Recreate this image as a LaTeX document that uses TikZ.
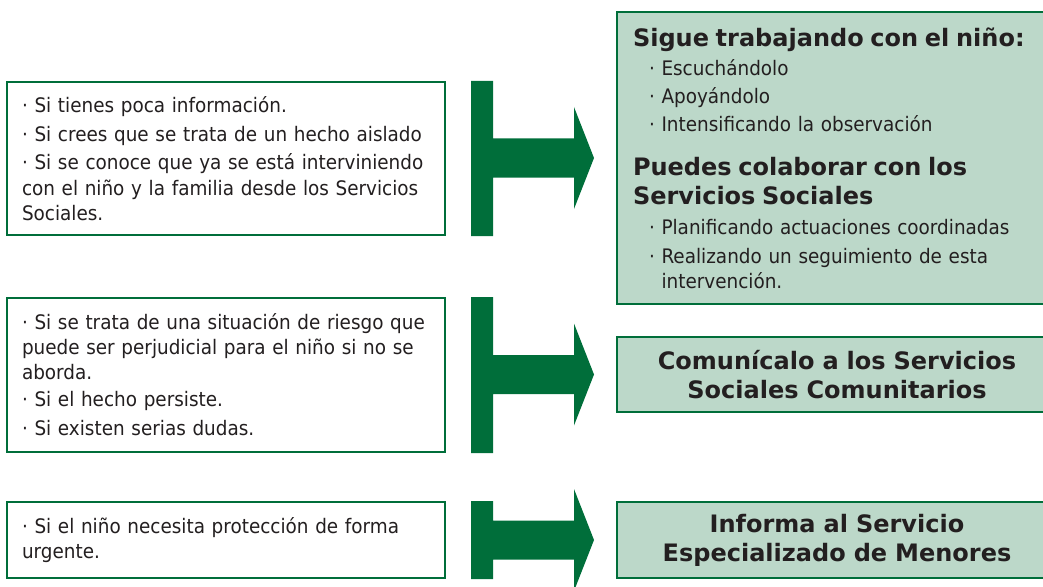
\documentclass[tikz,border=0pt]{standalone}
\usepackage{fontspec}
\setmainfont{DejaVu Sans}[FakeStretch=0.92, BoldFeatures={FakeStretch=1.0}]
\usetikzlibrary{positioning,calc}
\definecolor{verde}{HTML}{006E3A}
\definecolor{verdeclaro}{HTML}{BCD8C9}
\definecolor{texto}{HTML}{231F20}
\newcommand{\cuerpo}{\fontsize{20bp}{25bp}\selectfont}
\newcommand{\titular}{\fontsize{24bp}{29bp}\selectfont\bfseries}
\newcommand{\sangria}{\hspace*{16bp}}

% flecha en T desde la caja #1 hasta la caja #2
\newcommand{\flechaT}[2]{%
  \fill[flecha] let \p1=(#1.north east), \p2=(#1.south east), \p3=(#2.west) in
    (\x1+25bp,\y1) -- (\x1+47bp,\y1) -- (\x1+47bp,\y3+19.5bp) -- (\x3-42bp,\y3+19.5bp)
    -- (\x3-42bp,\y3+51bp) -- (\x3-22bp,\y3) -- (\x3-42bp,\y3-51bp) -- (\x3-42bp,\y3-19.5bp)
    -- (\x1+47bp,\y3-19.5bp) -- (\x1+47bp,\y2) -- (\x1+25bp,\y2) -- cycle;}

\begin{document}
\begin{tikzpicture}[x=1bp, y=-1bp,
    caja/.style={draw=verde, line width=2bp, fill=white, anchor=north west,
      minimum width=438bp, text width=408bp, inner xsep=15bp, align=left,
      text=texto, font=\cuerpo},
    accion/.style={caja, fill=verdeclaro, minimum width=440bp, text width=408bp, inner xsep=16bp},
    flecha/.style={fill=verde}]
  \useasboundingbox (0,0) rectangle (1043,587);

  % casos
  \node[caja, minimum height=153bp] (caso1) at (6,81) {%
    · Si tienes poca información.\\[4bp]
    · Si crees que se trata de un hecho aislado\\[3bp]
    · Si se conoce que ya se está interviniendo\\[1bp]
    con el niño y la familia desde los Servicios\\
    Sociales.};
  \node[caja, minimum height=154bp] (caso2) at (6,297) {%
    · Si se trata de una situación de riesgo que\\
    puede ser perjudicial para el niño si no se\\
    aborda.\\[2bp]
    · Si el hecho persiste.\\[4bp]
    · Si existen serias dudas.};
  \node[caja, minimum height=76bp] (caso3) at (6,501) {%
    · Si el niño necesita protección de forma\\
    urgente.};

  % respuestas
  \node[accion, minimum height=292bp] (resp1) at (616,11) {%
    {\titular Sigue trabajando con el niño:}\\[4bp]
    \sangria· Escuchándolo\\[3bp]
    \sangria· Apoyándolo\\[3bp]
    \sangria· Intensificando la observación\\[19bp]
    {\titular Puedes colaborar con los}\\[4bp]
    {\titular Servicios Sociales}\\[5bp]
    \sangria· Planificando actuaciones coordinadas\\[4bp]
    \sangria· Realizando un seguimiento de esta\\
    \sangria\phantom{· }intervención.};
  \node[accion, minimum height=75bp, align=center, font=\titular] (resp2) at (616,336) {%
    Comunícalo a los Servicios\\ Sociales Comunitarios};
  \node[accion, minimum height=76bp, align=center, font=\titular] (resp3) at (616,501) {%
    Informa al Servicio\\ Especializado de Menores};

  \flechaT{caso1}{resp1}
  \flechaT{caso2}{resp2}
  \flechaT{caso3}{resp3}
\end{tikzpicture}
\end{document}
